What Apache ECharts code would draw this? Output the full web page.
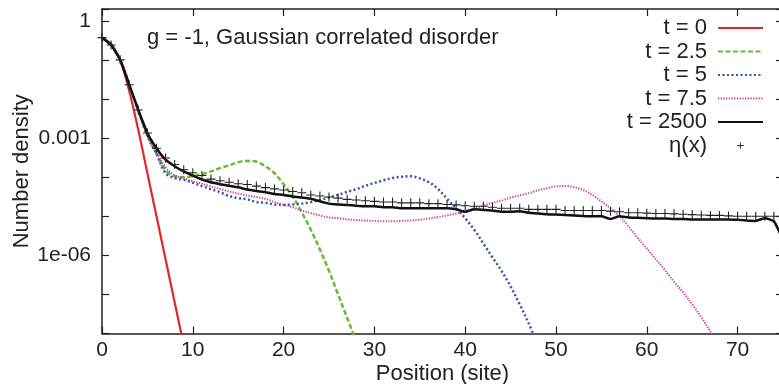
<!DOCTYPE html>
<html>
<head>
<meta charset="utf-8">
<title>Number density</title>
<script src="https://cdn.jsdelivr.net/npm/echarts@6/dist/echarts.min.js"></script>
<style>
  html, body { margin: 0; padding: 0; background: #fff; }
  #chart { width: 779px; height: 384px; }
</style>
</head>
<body>
<div id="chart"></div>
<script>
// 数据：位置 (site)
const positions = [0,1,2,3,4,5,6,7,8,9,10,11,12,13,14,15,16,17,18,19,20,21,22,23,24,25,26,27,28,29,30,31,32,33,34,35,36,37,38,39,40,41,42,43,44,45,46,47,48,49,50,51,52,53,54,55,56,57,58,59,60,61,62,63,64,65,66,67,68,69,70,71,72,73,74,75];

// number density
const densT0 = [3.7e-1, 2.6e-1, 1.0e-1, 1.6e-2, 1.6e-3, 1.26e-4, 1.0e-5, 7.9e-7, 6.3e-8, 5.0e-9];
const densT2_5 = [3.7e-1, 2.4e-1, 1.0e-1, 2.3e-2, 5.0e-3, 1.2e-3, 4.0e-4, 1.5e-4, 1.05e-4, 1.0e-4,
    1.07e-4, 1.2e-4, 1.4e-4, 1.7e-4, 2.0e-4, 2.4e-4, 2.6e-4, 2.5e-4, 1.9e-4, 1.26e-4,
    6.6e-5, 3.2e-5, 1.26e-5, 4.5e-6, 1.4e-6, 4.0e-7, 1.0e-7, 2.5e-8, 6.3e-9];
const densT5 = [3.7e-1, 2.4e-1, 1.0e-1, 2.3e-2, 5.0e-3, 1.12e-3, 4.0e-4, 1.26e-4, 9.5e-5, 8.5e-5,
    7.2e-5, 5.9e-5, 4.9e-5, 4.1e-5, 3.3e-5, 2.9e-5, 2.7e-5, 2.3e-5, 2.2e-5, 2.0e-5,
    1.95e-5, 2.0e-5, 2.1e-5, 2.3e-5, 2.6e-5, 3.0e-5, 3.5e-5, 4.2e-5, 4.9e-5, 6.0e-5,
    7.1e-5, 8.3e-5, 9.5e-5, 1.02e-4, 1.05e-4, 9.3e-5, 7.4e-5, 5.0e-5, 2.8e-5, 1.6e-5,
    8.9e-6, 4.5e-6, 2.0e-6, 8.9e-7, 4.0e-7, 1.6e-7, 5.6e-8, 1.8e-8, 5.0e-9];
const densT7_5 = [3.7e-1, 2.4e-1, 1.0e-1, 2.3e-2, 5.0e-3, 1.2e-3, 4.5e-4, 1.8e-4, 1.12e-4, 9.3e-5,
    7.9e-5, 6.8e-5, 5.8e-5, 5.0e-5, 4.3e-5, 3.8e-5, 3.4e-5, 3.1e-5, 2.8e-5, 2.3e-5,
    1.95e-5, 1.7e-5, 1.4e-5, 1.2e-5, 1.05e-5, 9.3e-6, 8.9e-6, 8.3e-6, 7.9e-6, 7.8e-6,
    7.6e-6, 7.4e-6, 7.4e-6, 7.6e-6, 7.8e-6, 8.1e-6, 8.7e-6, 9.5e-6, 1.05e-5, 1.17e-5,
    1.3e-5, 1.6e-5, 1.86e-5, 2.2e-5, 2.5e-5, 3.0e-5, 3.4e-5, 3.9e-5, 4.6e-5, 5.2e-5,
    5.8e-5, 5.9e-5, 5.5e-5, 4.7e-5, 3.5e-5, 2.4e-5, 1.6e-5, 1.0e-5, 5.4e-6, 2.8e-6,
    1.5e-6, 7.9e-7, 4.2e-7, 2.1e-7, 1.12e-7, 5.6e-8, 2.6e-8, 1.12e-8, 5.0e-9];
const densT2500 = [3.7e-1, 2.4e-1, 1.0e-1, 2.3e-2, 5.2e-3, 1.35e-3, 5.5e-4, 2.8e-4, 1.9e-4, 1.4e-4,
    1.1e-4, 8.7e-5, 7.4e-5, 6.6e-5, 6.0e-5, 5.5e-5, 4.8e-5, 4.4e-5, 4.1e-5, 3.7e-5,
    3.5e-5, 3.2e-5, 3.0e-5, 2.8e-5, 2.4e-5, 2.1e-5, 2.0e-5, 1.95e-5, 1.86e-5, 1.8e-5,
    1.8e-5, 1.7e-5, 1.7e-5, 1.6e-5, 1.6e-5, 1.6e-5, 1.6e-5, 1.6e-5, 1.6e-5, 1.5e-5,
    1.3e-5, 1.5e-5, 1.45e-5, 1.4e-5, 1.3e-5, 1.3e-5, 1.35e-5, 1.23e-5, 1.17e-5, 1.12e-5,
    1.1e-5, 1.07e-5, 1.05e-5, 1.02e-5, 1.0e-5, 1.0e-5, 8.5e-6, 1.0e-5, 9.3e-6, 9.1e-6,
    8.9e-6, 8.7e-6, 8.7e-6, 8.5e-6, 8.5e-6, 8.3e-6, 8.3e-6, 8.3e-6, 8.3e-6, 8.3e-6,
    8.1e-6, 7.8e-6, 7.6e-6, 8.9e-6, 7.4e-6, 2.5e-6];
const etaX = [3.7e-1, 2.4e-1, 1.0e-1, 2.3e-2, 5.2e-3, 1.35e-3, 5.5e-4, 3.1e-4, 2.1e-4, 1.55e-4,
    1.3e-4, 1.1e-4, 8.9e-5, 8.1e-5, 7.4e-5, 6.8e-5, 6.5e-5, 5.9e-5, 5.4e-5, 5.0e-5,
    4.7e-5, 4.3e-5, 4.0e-5, 3.5e-5, 3.3e-5, 3.1e-5, 2.9e-5, 2.7e-5, 2.6e-5, 2.5e-5,
    2.4e-5, 2.3e-5, 2.3e-5, 2.2e-5, 2.2e-5, 2.2e-5, 2.1e-5, 2.1e-5, 2.0e-5, 1.95e-5,
    1.86e-5, 1.8e-5, 1.8e-5, 1.7e-5, 1.6e-5, 1.6e-5, 1.6e-5, 1.5e-5, 1.5e-5, 1.5e-5,
    1.5e-5, 1.4e-5, 1.4e-5, 1.4e-5, 1.4e-5, 1.4e-5, 1.35e-5, 1.3e-5, 1.23e-5, 1.23e-5,
    1.2e-5, 1.17e-5, 1.17e-5, 1.15e-5, 1.12e-5, 1.1e-5, 1.07e-5, 1.05e-5, 1.05e-5, 1.02e-5,
    1.0e-5, 1.0e-5, 1.0e-5, 1.0e-5, 1.0e-5, 1.0e-5];

const seriesNames = ['t = 0', 't = 2.5', 't = 5', 't = 7.5', 't = 2500', 'η(x)'];
const xTickValues = [0, 10, 20, 30, 40, 50, 60, 70];
const yTickLabels = { '0': '1', '-3': '0.001', '-6': '1e-06' };

const font = '"Liberation Sans", Arial, Helvetica, sans-serif';
const ink = '#222';
const plusPath = 'path://M0,4.4H10V5.6H0Z M4.4,0H5.6V10H4.4Z';

function toPairs(values) {
    return values.map((v, i) => [positions[i], v]);
}

function xLabel(v) {
    return xTickValues.indexOf(v) >= 0 ? String(v) : '';
}

function yLabel(v) {
    const p = Math.log10(v);
    const e = Math.round(p);
    if (Math.abs(p - e) > 0.01) return '';
    return yTickLabels[String(e)] || '';
}

function lineSeries(name, values, color, width, dash, smooth) {
    return {
        name: name,
        type: 'line',
        data: toPairs(values),
        symbol: 'none',
        smooth: smooth,
        lineStyle: { color: color, width: width, type: dash },
        itemStyle: { color: color }
    };
}

const frameLine = { show: true, onZero: false, lineStyle: { color: ink, width: 1.5 } };
const frameTick = { show: true, inside: true, length: 7, lineStyle: { color: ink, width: 1.2 } };

// 图例：线条不带圆点，只有 η(x) 显示 + 号
const legendData = seriesNames.map(n => n === 'η(x)' ? { name: n, itemStyle: { opacity: 1 } } : { name: n });

const chart = echarts.init(document.getElementById('chart'));
chart.setOption({
    animation: false,
    backgroundColor: '#fff',
    title: {
        text: 'g = -1, Gaussian correlated disorder',
        left: 142,
        top: 22,
        textStyle: { fontSize: 22, fontWeight: 'normal', color: ink, fontFamily: font }
    },
    legend: {
        orient: 'vertical',
        right: 15,
        top: 17,
        padding: 0,
        align: 'right',
        itemWidth: 45,
        itemHeight: 8,
        itemGap: 1.5,
        itemStyle: { opacity: 0 },
        textStyle: { fontSize: 22, color: ink, fontFamily: font, padding: [0, 6, 0, 0] },
        data: legendData
    },
    grid: { left: 102, right: -4, top: 9, bottom: 50.5, outerBoundsMode: 'none', containLabel: false },
    xAxis: [
        {
            type: 'value', min: 0, max: 75, interval: 10, position: 'bottom',
            axisLine: frameLine, axisTick: frameTick,
            axisLabel: { margin: 6, color: ink, fontSize: 21, fontFamily: font, formatter: xLabel },
            splitLine: { show: false },
            name: 'Position (site)', nameLocation: 'middle', nameGap: 29, nameMoveOverlap: false,
            nameTextStyle: { fontSize: 22, color: ink, fontFamily: font }
        },
        {
            type: 'value', min: 0, max: 75, interval: 10, position: 'top',
            axisLine: frameLine, axisTick: frameTick,
            axisLabel: { show: false }, splitLine: { show: false }
        }
    ],
    yAxis: [
        {
            type: 'log', logBase: 10, min: 1e-8, max: 2, position: 'left',
            axisLine: frameLine, axisTick: frameTick,
            axisLabel: { margin: 11, color: ink, fontSize: 21, fontFamily: font, formatter: yLabel },
            splitLine: { show: false },
            name: 'Number density', nameLocation: 'middle', nameGap: 69, nameMoveOverlap: false,
            nameTextStyle: { fontSize: 22, color: ink, fontFamily: font }
        },
        {
            type: 'log', logBase: 10, min: 1e-8, max: 2, position: 'right',
            axisLine: frameLine, axisTick: frameTick,
            axisLabel: { show: false }, splitLine: { show: false }
        }
    ],
    series: [
        lineSeries(seriesNames[0], densT0, '#e3262b', 2.2, 'solid', 0.2),
        lineSeries(seriesNames[1], densT2_5, '#66bb33', 2.5, [5, 2.5], 0.35),
        lineSeries(seriesNames[2], densT5, '#3355aa', 2.5, [2, 2.5], 0.35),
        lineSeries(seriesNames[3], densT7_5, '#cc4499', 2, [1.3, 1.4], 0.35),
        lineSeries(seriesNames[4], densT2500, '#111', 2.5, 'solid', 0.15),
        {
            name: seriesNames[5],
            type: 'line',
            data: toPairs(etaX),
            symbol: plusPath,
            symbolSize: 9,
            showAllSymbol: true,
            lineStyle: { width: 0, opacity: 0 },
            itemStyle: { color: '#222' }
        }
    ]
});
</script>
</body>
</html>
